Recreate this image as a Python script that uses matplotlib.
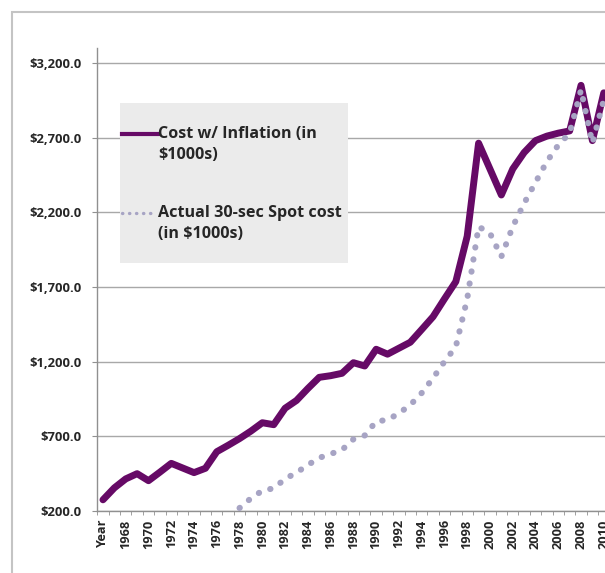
import matplotlib
matplotlib.use("Agg")
import matplotlib.pyplot as plt
import numpy as np
from matplotlib.lines import Line2D
from matplotlib.patches import Rectangle

plt.rcParams["font.family"] = ["Open Sans", "DejaVu Sans"]

# categories: first cell of the sheet ("Year") ended up as the first category
categories = ["Year"] + [str(y) for y in range(1967, 2011)]

# Cost w/ Inflation (in $1000s)
cost_inflation = [
    275, 355, 415, 450, 403, 460, 519, 488, 457, 486,
    597, 640, 685, 735, 791, 778, 888, 940, 1020, 1095,
    1106, 1122, 1193, 1171, 1283, 1250, 1290, 1330, 1415, 1501,
    1620, 1736, 2040, 2663, 2490, 2316, 2490, 2600, 2680, 2710,
    2730, 2745, 3050, 2680, 3000,
]

# Actual 30-sec Spot cost (in $1000s); earlier years fall below the axis minimum
spot_cost = [np.nan] * 12 + [
    220, 285, 336, 352, 415, 457, 508, 556, 582, 609,
    680, 706, 800, 810, 854, 910, 990, 1090, 1200, 1300,
    1620, 2104, 2060, 1903, 2104, 2260, 2400, 2540, 2650, 2730,
    3020, 2663, 2953,
]

y_ticks = [200, 700, 1200, 1700, 2200, 2700, 3200]

PURPLE = "#660a66"
LAVENDER = "#a7a4c4"
GRID = "#a8a8a8"
TXT = "#262626"

fig = plt.figure(figsize=(6.05, 5.73), dpi=100)
ax = fig.add_axes([0.1608, 0.1082, 0.8466, 0.808])

x = np.arange(len(categories))
ax.plot(x, cost_inflation, color=PURPLE, lw=5.0, solid_joinstyle="round",
        solid_capstyle="round", zorder=3)
ax.plot(x, spot_cost, color=LAVENDER, lw=4.4, linestyle=(0, (0.05, 1.95)),
        dash_capstyle="round", zorder=4)

ax.set_xlim(-0.5, len(categories) - 0.5)
ax.set_ylim(200, 3300)
ax.set_yticks(y_ticks)
ax.set_yticklabels([f"${v:,.1f}" for v in y_ticks], fontsize=9.4,
                   fontweight="bold", color=TXT)
ax.set_xticks(x[::2])
ax.set_xticklabels(categories[::2], rotation=90, fontsize=9.2,
                   fontweight="bold", color=TXT)
ax.set_xticks(np.arange(-0.5, len(categories), 1), minor=True)
ax.tick_params(axis="x", which="major", length=0, pad=6)
ax.tick_params(axis="x", which="minor", length=3, color="#909090")
ax.tick_params(axis="y", length=3.6, color="#909090", pad=8)

ax.grid(axis="y", color=GRID, lw=1.0)
ax.set_axisbelow(True)
for side in ("top", "right"):
    ax.spines[side].set_visible(False)
for side in ("left", "bottom"):
    ax.spines[side].set_color("#909090")
    ax.spines[side].set_linewidth(1.0)

# legend box drawn like the Excel one
tr = ax.transAxes
ax.add_patch(Rectangle((0.0443, 0.535), 0.445, 0.346, transform=tr,
                       facecolor="#ebebeb", edgecolor="none", zorder=2))
ax.add_line(Line2D([0.048, 0.118], [0.814, 0.814], transform=tr,
                   color=PURPLE, lw=3, zorder=5))
ax.text(0.119, 0.832, "Cost w/ Inflation (in\n$1000s)", transform=tr,
        fontsize=11.6, fontweight="bold", color=TXT, va="top",
        ha="left", linespacing=1.45, zorder=5)
ax.add_line(Line2D([0.048, 0.108], [0.643, 0.643], transform=tr,
                   color=LAVENDER, lw=2.4, linestyle=(0, (0.1, 2.0)),
                   dash_capstyle="round", zorder=5))
ax.text(0.119, 0.661, "Actual 30-sec Spot cost\n(in $1000s)", transform=tr,
        fontsize=11.6, fontweight="bold", color=TXT, va="top",
        ha="left", linespacing=1.45, zorder=5)

# outer chart frame (cropped on the right and bottom)
fig.add_artist(Rectangle((12 / 605, -0.05), 1.2, (573 - 12) / 573 + 0.05,
                         transform=fig.transFigure, fill=False,
                         edgecolor="#c4c4c4", lw=1.5))

fig.savefig("out.png", dpi=100)
